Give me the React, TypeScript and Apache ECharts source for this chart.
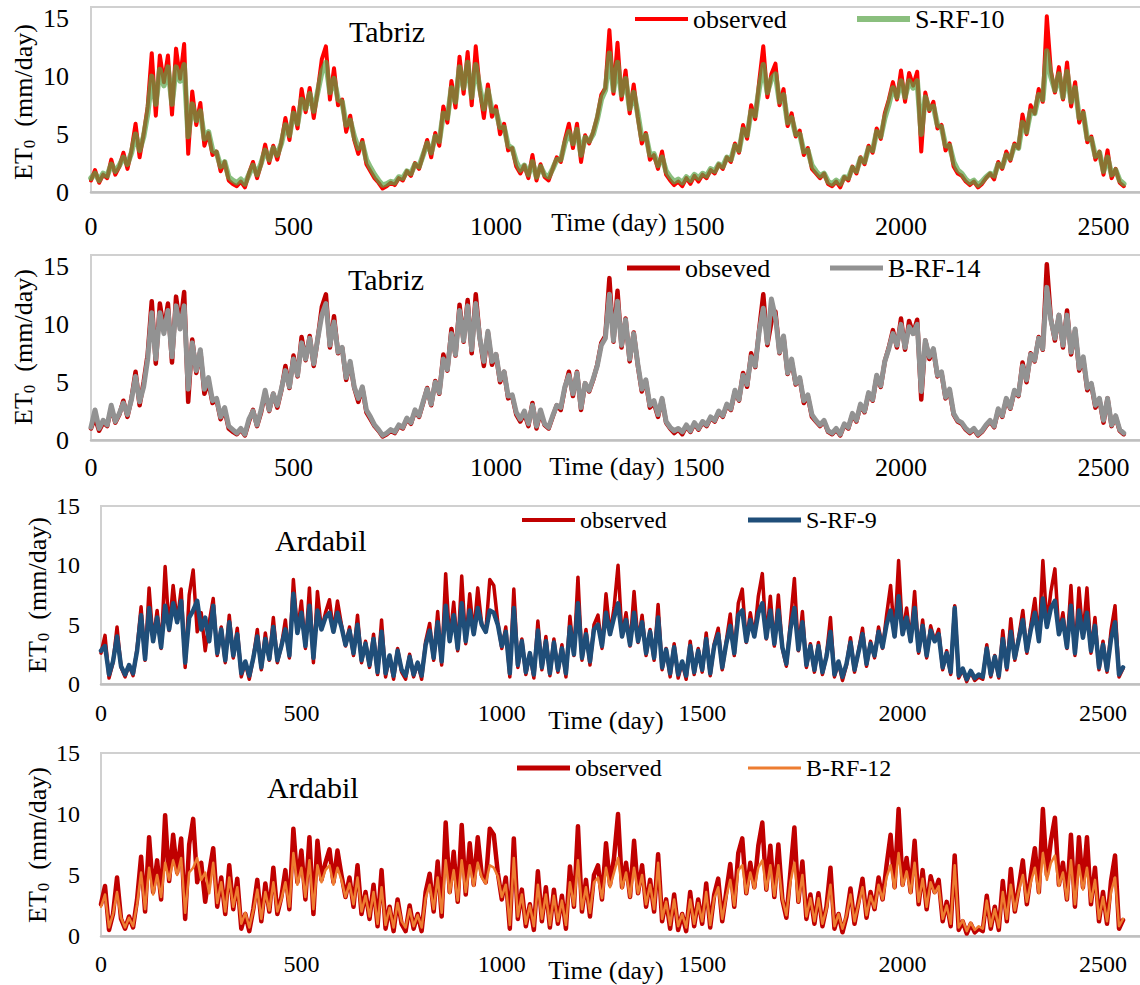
import React, { useEffect, useRef } from "react";
import * as echarts from "echarts";

// ---------------- data (one value every 10 days) ----------------
const STEP_DAYS = 10;
const X_MAX = 3000;
const X_INTERVAL = 500;
const Y_INTERVAL = 5;
const Y_TICKS = [0, 5, 10, 15];

const TABRIZ_OBSERVED = [
  1.0, 1.9, 0.8, 1.5, 1.2, 2.8, 1.5, 2.2, 3.4, 2.0,
  3.6, 5.9, 3.0, 5.0, 7.4, 12.0, 6.6, 11.8, 9.5, 11.8,
  6.7, 12.4, 9.8, 12.8, 3.3, 8.7, 5.8, 7.7, 4.0, 5.1,
  3.2, 3.5, 1.8, 2.6, 1.0, 0.7, 0.5, 0.9, 0.4, 1.6,
  2.6, 1.2, 2.4, 4.1, 2.5, 4.0, 2.8, 4.3, 6.4, 4.5,
  7.3, 5.5, 8.9, 6.9, 9.0, 6.4, 8.8, 11.5, 12.6, 8.0,
  10.7, 7.5, 8.0, 5.2, 6.6, 4.5, 3.3, 4.5, 2.4, 1.8,
  1.2, 0.8, 0.3, 0.5, 0.8, 0.6, 1.2, 1.0, 1.8, 1.4,
  2.5, 2.0, 3.2, 4.5, 3.0, 5.1, 4.0, 7.4, 6.0, 9.6,
  7.3, 11.7, 8.5, 12.1, 7.5, 12.6, 8.8, 6.4, 9.3, 6.5,
  7.4, 5.0, 5.9, 3.6, 3.8, 2.2, 1.6, 2.3, 1.2, 3.2,
  1.0, 2.4, 1.3, 1.0, 2.0, 3.0, 2.6, 4.5, 5.9, 3.8,
  5.9, 2.6, 4.9, 4.2, 5.2, 6.5, 8.4, 9.0, 14.0, 8.5,
  12.9, 8.0, 10.5, 6.8, 9.3, 6.5, 4.2, 5.1, 2.8, 3.2,
  2.0, 3.5, 1.5, 1.0, 0.6, 0.9, 0.5, 1.2, 0.7, 1.4,
  0.9, 1.5, 1.2, 1.9, 1.6, 2.4, 2.0, 3.0, 2.6, 4.2,
  3.4, 5.8, 4.6, 7.5, 6.3, 9.6, 12.6, 8.2, 10.2, 11.1,
  7.5, 8.9, 5.7, 6.8, 4.8, 5.3, 3.2, 3.8, 2.0, 1.6,
  1.2, 1.6, 0.7, 0.5, 0.9, 0.4, 1.3, 1.0, 2.2, 1.6,
  3.0, 2.4, 4.0, 3.4, 5.5, 4.6, 6.8, 8.0, 9.5, 8.0,
  10.5, 7.8, 10.3, 9.2, 10.4, 3.5, 8.6, 7.0, 7.8, 5.5,
  5.8, 3.6, 4.2, 2.2, 1.6, 1.4, 0.9, 0.6, 0.9, 0.4,
  0.7, 1.2, 1.6, 1.1, 2.6, 2.0, 3.5, 2.7, 4.2, 3.8,
  6.7, 5.0, 7.5, 6.8, 8.9, 7.8, 15.2, 10.5, 8.6, 10.8,
  8.0, 11.2, 7.4, 9.5, 6.0, 7.0, 4.3, 4.8, 2.8, 3.5,
  1.5, 3.6, 1.2, 2.0, 0.8, 0.5,
];

const TABRIZ_S_RF_10 = [
  1.2, 1.6, 1.0, 1.6, 1.4, 2.4, 1.8, 2.3, 3.0, 2.4,
  3.4, 5.0, 3.6, 4.8, 6.8, 10.0, 7.6, 10.6, 9.2, 10.8,
  7.6, 10.8, 9.6, 11.0, 4.8, 7.6, 6.2, 7.0, 4.6, 5.2,
  3.6, 3.4, 2.2, 2.6, 1.3, 1.0, 0.8, 1.1, 0.7, 1.5,
  2.3, 1.5, 2.5, 3.6, 2.8, 3.8, 3.2, 4.2, 5.8, 4.9,
  6.8, 5.9, 8.0, 7.2, 8.5, 7.0, 8.7, 10.4, 11.2, 8.6,
  9.8, 8.0, 7.8, 5.8, 6.2, 4.8, 3.8, 4.2, 2.8, 2.1,
  1.5, 1.0, 0.6, 0.7, 0.9, 0.8, 1.3, 1.2, 1.8, 1.6,
  2.4, 2.2, 3.2, 4.2, 3.4, 4.8, 4.4, 6.8, 6.4, 9.0,
  7.8, 10.8, 9.0, 11.2, 8.2, 11.0, 9.0, 7.2, 8.8, 7.0,
  7.0, 5.6, 5.6, 4.0, 3.8, 2.6, 1.9, 2.3, 1.5, 2.6,
  1.3, 2.2, 1.5, 1.3, 2.0, 2.8, 2.8, 4.2, 5.2, 4.2,
  5.4, 3.2, 4.7, 4.4, 5.0, 6.3, 8.0, 8.8, 12.0, 8.8,
  11.2, 8.4, 9.8, 7.2, 8.6, 6.8, 4.6, 4.9, 3.2, 3.3,
  2.3, 3.0, 1.8, 1.3, 0.9, 1.1, 0.8, 1.3, 1.0, 1.5,
  1.2, 1.6, 1.4, 2.0, 1.8, 2.4, 2.2, 3.0, 2.8, 4.0,
  3.6, 5.4, 4.9, 7.0, 6.6, 9.0, 11.0, 8.6, 9.8, 10.2,
  7.8, 8.4, 6.0, 6.4, 5.0, 5.0, 3.5, 3.6, 2.3, 1.8,
  1.4, 1.6, 0.9, 0.7, 1.0, 0.7, 1.3, 1.2, 2.1, 1.8,
  2.9, 2.6, 3.8, 3.6, 5.2, 4.8, 6.4, 7.6, 9.0, 8.2,
  9.6, 8.2, 9.6, 9.0, 9.6, 5.0, 8.2, 7.2, 7.4, 5.8,
  5.6, 4.0, 4.0, 2.6, 1.9, 1.6, 1.1, 0.8, 1.0, 0.6,
  0.9, 1.3, 1.6, 1.4, 2.4, 2.2, 3.2, 2.9, 4.0, 3.8,
  6.0, 5.2, 7.0, 6.8, 8.4, 8.0, 12.2, 10.0, 8.8, 10.2,
  8.2, 10.4, 7.8, 9.0, 6.4, 6.8, 4.6, 4.6, 3.1, 3.4,
  1.8, 3.0, 1.5, 1.9, 1.0, 0.7,
];

const TABRIZ_B_RF_14 = [
  1.1, 2.6, 1.0, 1.7, 1.3, 3.0, 1.6, 2.3, 3.2, 2.2,
  3.5, 5.5, 3.3, 4.6, 7.0, 11.0, 7.0, 11.0, 9.2, 11.2,
  7.2, 11.6, 9.6, 11.6, 4.4, 8.4, 6.0, 7.8, 4.4, 5.4,
  3.4, 3.6, 2.0, 2.8, 1.2, 0.9, 0.6, 1.0, 0.5, 1.8,
  2.5, 1.3, 2.6, 4.3, 2.6, 4.0, 3.0, 4.4, 6.0, 4.6,
  7.0, 5.6, 8.4, 7.0, 8.8, 6.6, 8.8, 10.8, 11.8, 8.2,
  10.2, 7.6, 8.0, 5.4, 6.8, 4.6, 3.6, 4.6, 2.6, 2.0,
  1.3, 0.9, 0.4, 0.6, 0.9, 0.7, 1.3, 1.1, 1.9, 1.5,
  2.6, 2.1, 3.3, 4.4, 3.1, 5.0, 4.1, 7.0, 6.1, 9.2,
  7.4, 11.2, 8.6, 11.6, 7.8, 11.8, 8.8, 6.8, 9.4, 6.8,
  7.4, 5.2, 5.9, 3.8, 3.9, 2.4, 1.8, 2.5, 1.4, 3.0,
  1.2, 2.6, 1.4, 1.1, 2.1, 3.0, 2.8, 4.6, 5.6, 4.0,
  5.8, 2.8, 4.9, 4.3, 5.3, 6.4, 8.2, 8.8, 12.6, 8.6,
  12.0, 8.2, 10.4, 7.0, 9.2, 6.6, 4.4, 5.2, 3.0, 3.4,
  2.2, 3.6, 1.6, 1.1, 0.8, 1.0, 0.7, 1.3, 0.8, 1.5,
  1.0, 1.6, 1.3, 2.0, 1.7, 2.5, 2.1, 3.1, 2.7, 4.3,
  3.5, 5.6, 4.8, 7.2, 6.4, 9.4, 11.4, 8.4, 12.2, 10.6,
  7.6, 9.0, 5.8, 7.0, 4.9, 5.4, 3.4, 3.9, 2.2, 1.7,
  1.3, 1.7, 0.8, 0.6, 1.0, 0.5, 1.4, 1.1, 2.3, 1.7,
  3.1, 2.5, 4.1, 3.5, 5.6, 4.7, 6.8, 7.9, 9.2, 8.2,
  10.0, 8.0, 9.8, 9.2, 10.0, 4.2, 8.6, 7.2, 7.9, 5.6,
  5.9, 3.7, 4.4, 2.3, 1.7, 1.5, 1.0, 0.7, 1.0, 0.5,
  0.8, 1.3, 1.7, 1.2, 2.7, 2.1, 3.6, 2.8, 4.3, 3.9,
  6.4, 5.2, 7.4, 6.9, 8.8, 7.9, 13.2, 10.4, 8.8, 10.8,
  8.2, 10.8, 7.6, 9.6, 6.2, 7.2, 4.5, 4.9, 3.0, 3.6,
  1.7, 3.6, 1.3, 2.1, 0.9, 0.6,
];

const ARDABIL_OBSERVED = [
  2.6, 4.1, 0.5, 1.8, 4.8, 1.4, 0.6, 1.6, 0.7, 3.0,
  6.5, 2.0, 8.1, 3.6, 6.2, 3.0, 9.9, 4.5, 8.3, 5.2,
  8.0, 1.4, 7.5, 9.6, 4.4, 6.0, 2.8, 5.2, 7.2, 2.4,
  4.8, 1.8, 5.8, 2.2, 4.7, 0.6, 1.8, 0.4, 2.2, 4.6,
  1.2, 4.3, 2.0, 5.6, 1.8, 3.2, 5.4, 2.2, 8.8, 4.4,
  7.0, 3.0, 8.1, 1.8, 7.8, 4.6, 6.0, 7.1, 4.4, 7.0,
  5.0, 3.2, 4.8, 2.4, 5.8, 1.8, 3.6, 1.4, 4.2, 0.8,
  5.4, 0.6, 2.4, 0.4, 3.0, 1.0, 0.4, 2.5, 0.6, 1.8,
  0.4, 3.6, 5.1, 2.0, 6.1, 1.6, 9.3, 3.6, 6.9, 2.8,
  9.1, 3.4, 7.6, 4.2, 8.1, 5.0, 4.4, 8.8, 8.3, 5.2,
  3.0, 4.8, 0.6, 8.0, 1.4, 3.8, 0.8, 2.6, 0.5, 5.3,
  1.2, 4.0, 0.7, 3.8, 1.0, 3.3, 0.6, 5.7, 2.4, 9.0,
  2.0, 4.6, 1.6, 5.0, 5.8, 3.0, 7.6, 4.2, 6.4, 10.0,
  4.0, 6.0, 3.2, 7.8, 3.5, 5.8, 2.4, 4.6, 2.0, 6.7,
  1.2, 3.0, 0.6, 3.4, 0.5, 1.8, 0.4, 3.6, 0.8, 3.0,
  1.0, 4.3, 0.7, 3.4, 4.7, 1.2, 3.6, 5.9, 2.4, 6.8,
  8.0, 3.5, 6.0, 4.0, 7.4, 9.3, 3.8, 7.4, 3.2, 7.5,
  3.0, 1.5, 5.2, 8.9, 2.8, 6.1, 1.4, 3.4, 1.0, 3.5,
  0.8, 2.4, 5.6, 0.6, 1.8, 0.3, 1.6, 3.9, 1.0, 2.8,
  4.7, 1.5, 3.6, 2.2, 4.8, 3.0, 5.8, 8.3, 4.0, 10.4,
  4.2, 6.4, 3.6, 7.8, 2.6, 5.4, 2.2, 4.9, 3.6, 4.6,
  1.2, 2.8, 0.8, 6.6, 0.5, 1.2, 0.2, 1.0, 0.3, 0.6,
  0.4, 3.3, 0.6, 2.4, 0.5, 4.5, 1.2, 5.5, 2.0, 4.0,
  6.2, 2.6, 5.0, 7.2, 3.6, 10.4, 5.0, 7.8, 9.7, 4.2,
  6.0, 3.0, 8.3, 2.4, 8.1, 4.0, 8.1, 2.6, 5.6, 1.2,
  3.6, 1.0, 4.5, 6.6, 0.6, 1.3,
];

const ARDABIL_S_RF_9 = [
  2.8, 3.2, 0.8, 1.9, 4.0, 1.5, 0.8, 1.6, 0.9, 2.8,
  5.8, 2.1, 6.4, 3.6, 5.6, 3.1, 6.6, 4.6, 6.8, 5.2,
  7.0, 1.8, 5.6, 6.2, 7.0, 4.6, 5.6, 3.6, 6.6, 2.6,
  4.6, 2.0, 5.2, 2.4, 4.2, 0.9, 1.9, 0.7, 2.2, 4.0,
  1.4, 3.8, 2.1, 4.8, 2.0, 3.2, 4.6, 2.4, 7.6, 4.3,
  6.0, 3.2, 6.6, 2.2, 6.2, 4.6, 5.6, 6.0, 4.4, 6.0,
  4.8, 3.3, 4.5, 2.6, 5.0, 2.0, 3.4, 1.6, 3.8, 1.0,
  4.4, 0.9, 2.4, 0.7, 2.8, 1.2, 0.7, 2.3, 0.8, 1.8,
  0.7, 3.3, 4.5, 2.2, 5.2, 1.9, 6.6, 3.6, 5.8, 3.0,
  6.8, 3.6, 6.2, 4.2, 6.4, 5.0, 4.4, 6.2, 6.0, 5.0,
  3.2, 4.4, 0.9, 6.4, 1.6, 3.6, 1.0, 2.6, 0.8, 4.5,
  1.4, 3.6, 0.9, 3.5, 1.2, 3.0, 0.9, 4.8, 2.5, 6.8,
  2.2, 4.2, 1.9, 4.6, 5.0, 3.2, 6.0, 4.2, 5.6, 6.8,
  4.0, 5.4, 3.3, 6.0, 3.6, 5.2, 2.6, 4.4, 2.2, 5.6,
  1.4, 2.9, 0.9, 3.1, 0.8, 1.9, 0.7, 3.2, 1.0, 2.8,
  1.2, 3.8, 0.9, 3.2, 4.2, 1.4, 3.4, 4.9, 2.6, 5.8,
  6.2, 3.6, 5.4, 4.0, 6.0, 6.8, 3.9, 6.2, 3.4, 6.2,
  3.1, 1.7, 4.6, 6.4, 2.9, 5.2, 1.6, 3.2, 1.2, 3.2,
  1.0, 2.3, 4.4, 0.8, 1.9, 0.6, 1.7, 3.5, 1.2, 2.7,
  4.2, 1.7, 3.4, 2.4, 4.4, 3.1, 5.0, 6.2, 4.0, 7.4,
  4.2, 5.6, 3.6, 6.4, 2.8, 4.9, 2.4, 4.5, 3.6, 4.2,
  1.4, 2.6, 1.0, 6.4, 0.7, 1.3, 0.4, 1.1, 0.5, 0.8,
  0.6, 3.0, 0.8, 2.3, 0.7, 3.8, 1.4, 4.4, 2.2, 3.8,
  5.4, 2.8, 4.6, 6.0, 3.6, 7.2, 4.8, 6.4, 7.0, 4.2,
  5.4, 3.1, 6.6, 2.6, 6.2, 3.9, 6.0, 2.8, 4.9, 1.4,
  3.3, 1.2, 3.8, 5.2, 0.8, 1.4,
];

const ARDABIL_B_RF_12 = [
  2.4, 3.4, 0.7, 1.8, 3.6, 1.5, 0.7, 1.5, 0.8, 2.6,
  5.2, 2.2, 5.6, 3.4, 5.0, 3.2, 6.0, 4.6, 6.2, 5.0,
  6.4, 1.9, 5.2, 5.6, 6.4, 4.6, 5.2, 3.5, 6.0, 2.7,
  4.4, 2.0, 4.8, 2.4, 4.0, 1.0, 1.9, 0.7, 2.1, 3.8,
  1.4, 3.6, 2.1, 4.4, 2.0, 3.0, 4.4, 2.4, 6.8, 4.2,
  5.6, 3.2, 6.2, 2.2, 5.8, 4.4, 5.4, 5.8, 4.2, 5.6,
  4.6, 3.2, 4.3, 2.6, 4.8, 2.0, 3.3, 1.6, 3.6, 1.0,
  4.0, 0.9, 2.3, 0.7, 2.7, 1.2, 0.7, 2.2, 0.8, 1.7,
  0.7, 3.1, 4.2, 2.2, 4.8, 1.9, 6.2, 3.5, 5.4, 2.9,
  6.2, 3.6, 5.8, 4.1, 6.0, 4.8, 4.3, 5.8, 5.6, 4.9,
  3.2, 4.2, 0.9, 6.4, 1.6, 3.4, 1.0, 2.5, 0.8, 4.2,
  1.4, 3.4, 0.9, 3.3, 1.2, 2.9, 0.9, 4.4, 2.5, 6.2,
  2.2, 4.0, 1.9, 4.4, 4.8, 3.1, 5.6, 4.0, 5.2, 6.4,
  3.9, 5.2, 3.2, 5.6, 3.5, 5.0, 2.6, 4.2, 2.2, 6.0,
  1.4, 2.8, 0.9, 3.0, 0.8, 1.8, 0.7, 3.0, 1.0, 2.7,
  1.2, 3.6, 0.9, 3.1, 4.0, 1.4, 3.2, 4.6, 2.5, 5.4,
  5.8, 3.5, 5.2, 3.9, 5.6, 6.2, 3.8, 5.8, 3.3, 5.8,
  3.0, 1.7, 4.4, 6.0, 2.8, 5.0, 1.6, 3.1, 1.2, 3.1,
  1.0, 2.2, 4.2, 0.8, 1.8, 0.6, 1.7, 3.4, 1.2, 2.6,
  4.0, 1.7, 3.3, 2.3, 4.2, 3.0, 4.8, 5.8, 3.9, 6.8,
  4.1, 5.3, 3.5, 6.0, 2.8, 4.7, 2.4, 4.4, 3.5, 4.1,
  1.4, 2.5, 1.0, 5.8, 0.7, 1.3, 0.4, 1.1, 0.5, 0.8,
  0.6, 2.9, 0.8, 2.2, 0.7, 3.6, 1.4, 4.2, 2.1, 3.7,
  5.0, 2.8, 4.4, 5.6, 3.5, 6.8, 4.6, 6.0, 6.6, 4.1,
  5.2, 3.0, 6.2, 2.6, 5.8, 3.8, 5.6, 2.8, 4.6, 1.4,
  3.2, 1.2, 3.6, 4.8, 0.8, 1.4,
];

// ---------------- presentation ----------------
const FONT = "'Liberation Serif', 'Times New Roman', Times, serif";
const CHART_DIV_WIDTH = 1400; // wider than the page: the plot runs off the right edge, as in the reference

type PanelConfig = {
  top: number;
  height: number;
  title: string;
  titleLeft: number;
  titleTop: number;
  gridLeft: number;
  gridTop: number;
  gridHeight: number;
  pxPerDay: number;
  yMax: number;
  tickFont: number;
  xLabelMargin: number;
  yLabelMargin: number;
  legendFont: number;
  legendTop: number;
  legend1Left: number;
  legend2Left: number;
  obsName: string;
  obs: number[];
  obsColor: string;
  obsWidth: number;
  modelName: string;
  model: number[];
  modelColor: string;
  modelOpacity: number;
  modelWidth: number;
  timeX: number;
  timeY: number;
  yNameX: number;
  yNameY: number;
};

const PANELS: PanelConfig[] = [
  {
    top: 0, height: 240, title: "Tabriz", titleLeft: 349, titleTop: 16,
    gridLeft: 91, gridTop: 7, gridHeight: 185, pxPerDay: 0.405, yMax: 16,
    tickFont: 26, xLabelMargin: 21, yLabelMargin: 22,
    legendFont: 26, legendTop: 6, legend1Left: 635, legend2Left: 857,
    obsName: "observed", obs: TABRIZ_OBSERVED, obsColor: "#FF0000", obsWidth: 4,
    modelName: "S-RF-10", model: TABRIZ_S_RF_10, modelColor: "rgb(89,164,71)", modelOpacity: 0.7, modelWidth: 5.5,
    timeX: 609, timeY: 222, yNameX: 23, yNameY: 102,
  },
  {
    top: 240, height: 250, title: "Tabriz", titleLeft: 348, titleTop: 24,
    gridLeft: 91, gridTop: 15, gridHeight: 185, pxPerDay: 0.405, yMax: 16,
    tickFont: 26, xLabelMargin: 14, yLabelMargin: 22,
    legendFont: 26, legendTop: 15, legend1Left: 627, legend2Left: 830,
    obsName: "obseved", obs: TABRIZ_OBSERVED, obsColor: "#C00000", obsWidth: 4.5,
    modelName: "B-RF-14", model: TABRIZ_B_RF_14, modelColor: "#929292", modelOpacity: 1, modelWidth: 5,
    timeX: 607, timeY: 226, yNameX: 23, yNameY: 107,
  },
  {
    top: 490, height: 245, title: "Ardabil", titleLeft: 275, titleTop: 35,
    gridLeft: 101, gridTop: 16, gridHeight: 178, pxPerDay: 0.4008, yMax: 15,
    tickFont: 24, xLabelMargin: 17, yLabelMargin: 21,
    legendFont: 24, legendTop: 18, legend1Left: 522, legend2Left: 748,
    obsName: "observed", obs: ARDABIL_OBSERVED, obsColor: "#C00000", obsWidth: 3.5,
    modelName: "S-RF-9", model: ARDABIL_S_RF_9, modelColor: "#1F4E79", modelOpacity: 1, modelWidth: 4.5,
    timeX: 606, timeY: 230, yNameX: 37, yNameY: 105,
  },
  {
    top: 735, height: 250, title: "Ardabil", titleLeft: 267, titleTop: 37,
    gridLeft: 101, gridTop: 18, gridHeight: 183, pxPerDay: 0.4008, yMax: 15,
    tickFont: 24, xLabelMargin: 16, yLabelMargin: 21,
    legendFont: 24, legendTop: 21, legend1Left: 517, legend2Left: 748,
    obsName: "observed", obs: ARDABIL_OBSERVED, obsColor: "#C00000", obsWidth: 4.5,
    modelName: "B-RF-12", model: ARDABIL_B_RF_12, modelColor: "#ED7D31", modelOpacity: 1, modelWidth: 2.5,
    timeX: 606, timeY: 235, yNameX: 37, yNameY: 110,
  },
];

function toPoints(values: number[]) {
  return values.map((v, i) => [i * STEP_DAYS, v]);
}

function legendBlock(name: string, color: string, opacity: number, h: number, left: number, p: PanelConfig) {
  return {
    data: [{ name, itemStyle: { color, opacity } }],
    left,
    top: p.legendTop,
    padding: 0,
    icon: "rect",
    itemWidth: 53,
    itemHeight: Math.max(2, Math.round(h)),
    itemGap: 0,
    selectedMode: false,
    textStyle: { fontFamily: FONT, fontSize: p.legendFont, color: "#000", lineHeight: p.legendFont },
  };
}

function buildOption(p: PanelConfig) {
  return {
    animation: false,
    title: {
      text: p.title, left: p.titleLeft, top: p.titleTop, padding: 0,
      textStyle: { fontFamily: FONT, fontSize: 30, fontWeight: "normal", color: "#000", lineHeight: 30 },
    },
    legend: [
      legendBlock(p.obsName, p.obsColor, 1, p.obsWidth, p.legend1Left, p),
      legendBlock(p.modelName, p.modelColor, p.modelOpacity, p.modelWidth, p.legend2Left, p),
    ],
    grid: {
      left: p.gridLeft, top: p.gridTop, width: p.pxPerDay * X_MAX, height: p.gridHeight,
      show: true, borderColor: "#D0D0D0", borderWidth: 2, backgroundColor: "transparent",
    },
    xAxis: {
      type: "value", min: 0, max: X_MAX, interval: X_INTERVAL,
      axisLine: { show: true, lineStyle: { color: "#BFBFBF", width: 2.5 } },
      axisTick: { show: false }, splitLine: { show: false },
      axisLabel: {
        margin: p.xLabelMargin, fontFamily: FONT, fontSize: p.tickFont, color: "#000",
        showMaxLabel: false,
        formatter: (v: number) => String(v),
      },
    },
    yAxis: {
      type: "value", min: 0, max: p.yMax, interval: Y_INTERVAL,
      axisLine: { show: false }, axisTick: { show: false }, splitLine: { show: false },
      axisLabel: {
        margin: p.yLabelMargin, fontFamily: FONT, fontSize: p.tickFont, color: "#000",
        formatter: (v: number) => (Y_TICKS.indexOf(v) >= 0 ? String(v) : ""),
      },
    },
    graphic: [
      {
        type: "text", x: p.timeX, y: p.timeY, silent: true,
        style: {
          text: "Time (day)", fill: "#000", fontFamily: FONT, fontSize: 26,
          align: "center", verticalAlign: "middle",
        },
      },
      {
        type: "text", x: p.yNameX, y: p.yNameY, rotation: Math.PI / 2, silent: true,
        style: {
          text: "{m|ET}{s|0}{m|  (mm/day)}", fill: "#000",
          align: "center", verticalAlign: "middle",
          rich: {
            m: { fontFamily: FONT, fontSize: 26, lineHeight: 30, fill: "#000" },
            s: { fontFamily: FONT, fontSize: 17, lineHeight: 17, fill: "#000", verticalAlign: "bottom" },
          },
        },
      },
    ],
    series: [
      {
        name: p.obsName, type: "line", data: toPoints(p.obs), symbol: "none", z: 2,
        itemStyle: { color: p.obsColor },
        lineStyle: { color: p.obsColor, width: p.obsWidth, join: "round", cap: "round" },
      },
      {
        name: p.modelName, type: "line", data: toPoints(p.model), symbol: "none", z: 3,
        itemStyle: { color: p.modelColor },
        lineStyle: { color: p.modelColor, width: p.modelWidth, opacity: p.modelOpacity, join: "round", cap: "round" },
      },
    ],
  };
}

function Panel({ cfg }: { cfg: PanelConfig }) {
  const ref = useRef<HTMLDivElement>(null);
  useEffect(() => {
    if (!ref.current) return;
    const chart = echarts.init(ref.current, undefined, { renderer: "svg" });
    chart.setOption(buildOption(cfg) as any);
    return () => chart.dispose();
  }, [cfg]);
  return (
    <div
      ref={ref}
      style={{ position: "absolute", left: 0, top: cfg.top, width: CHART_DIV_WIDTH, height: cfg.height }}
    />
  );
}

export default function App() {
  return (
    <div style={{ position: "absolute", left: 0, top: 0, width: 1140, height: 985, background: "#fff", overflow: "hidden" }}>
      {PANELS.map((p, i) => (
        <Panel key={i} cfg={p} />
      ))}
    </div>
  );
}
